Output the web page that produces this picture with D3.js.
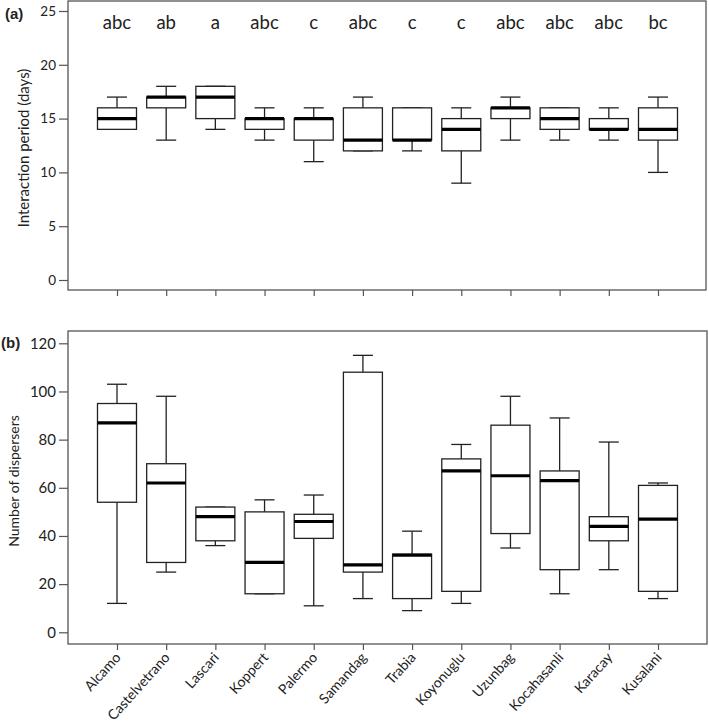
<!DOCTYPE html>
<html>
<head>
<meta charset="utf-8">
<script src="https://cdn.jsdelivr.net/npm/d3@7"></script>
<style>
  body { margin: 0; background: #fff; }
  text { font-family: Lato, "Open Sans", sans-serif; fill: #222; }
</style>
</head>
<body>
<div id="chart"></div>
<script>
// sites, in plotting order
let sites = ["Alcamo", "Castelvetrano", "Lascari", "Koppert", "Palermo", "Samandag",
             "Trabia", "Koyonuglu", "Uzunbag", "Kocahasanli", "Karacay", "Kusalani"];

// (a) interaction period (days): min, q1, median, q3, max
let periodMin = [14, 13, 14, 13, 11, 12, 12, 9, 13, 13, 13, 10];
let periodQ1  = [14, 16, 15, 14, 13, 12, 13, 12, 15, 14, 14, 13];
let periodMed = [15, 17, 17, 15, 15, 13, 13, 14, 16, 15, 14, 14];
let periodQ3  = [16, 17, 18, 15, 15, 16, 16, 15, 16, 16, 15, 16];
let periodMax = [17, 18, 18, 16, 16, 17, 16, 16, 17, 16, 16, 17];
let letters = ["abc", "ab", "a", "abc", "c", "abc", "c", "c", "abc", "abc", "abc", "bc"];

// (b) number of dispersers
let dispMin = [12, 25, 36, 16, 11, 14, 9, 12, 35, 16, 26, 14];
let dispQ1  = [54, 29, 38, 16, 39, 25, 14, 17, 41, 26, 38, 17];
let dispMed = [87, 62, 48, 29, 46, 28, 32, 67, 65, 63, 44, 47];
let dispQ3  = [95, 70, 52, 50, 49, 108, 32.5, 72, 86, 67, 48, 61];
let dispMax = [103, 98, 52, 55, 57, 115, 42, 78, 98, 89, 79, 62];

let periodTicks = [0, 5, 10, 15, 20, 25];
let dispTicks = [0, 20, 40, 60, 80, 100, 120];

let W = 709, H = 722;
let frameColor = "#555";
let boxColor = "#222";
let boxW = 39, capW = 20;

let svg = d3.select("#chart").append("svg")
    .attr("width", W).attr("height", H);

let xScale = d3.scalePoint().domain(sites).range([117, 658]);

let drawPanel = function(cfg)
{
    let g = svg.append("g");
    let yScale = d3.scaleLinear().domain(cfg.domain).range(cfg.yRange);

    // frame
    g.append("rect")
        .attr("x", cfg.frame.x0).attr("y", cfg.frame.y0)
        .attr("width", cfg.frame.x1 - cfg.frame.x0)
        .attr("height", cfg.frame.y1 - cfg.frame.y0)
        .attr("fill", "none").attr("stroke", frameColor).attr("stroke-width", 1.3);

    let yAxis = g.append("g")
        .attr("transform", "translate(" + cfg.frame.x0 + ",0)")
        .call(d3.axisLeft(yScale).tickValues(cfg.ticks).tickSize(9).tickPadding(3));
    yAxis.select(".domain").remove();
    yAxis.selectAll("line").attr("stroke", frameColor).attr("stroke-width", 1.2);
    yAxis.selectAll("text").attr("font-size", cfg.tickFont).attr("fill", "#333")
        .style("font-family", "Lato, sans-serif");

    let xAxis = g.append("g")
        .attr("transform", "translate(0," + cfg.frame.y1 + ")")
        .call(d3.axisBottom(xScale).tickSize(6).tickFormat(cfg.showNames ? null : ""));
    xAxis.select(".domain").remove();
    xAxis.selectAll("line").attr("stroke", frameColor).attr("stroke-width", 1.2);
    if (cfg.showNames)
    {
        xAxis.selectAll("text")
            .attr("font-size", 14).attr("fill", "#333")
            .style("font-family", "Lato, sans-serif")
            .attr("text-anchor", "end")
            .attr("dy", null).attr("y", 0)
            .attr("transform", "translate(4,14) rotate(-48)");
    }

    let boxes = g.selectAll(".box")
        .data(sites)
        .enter()
        .append("g")
        .attr("class", "box");

    // whiskers
    boxes.append("line")
        .attr("x1", d => xScale(d)).attr("x2", d => xScale(d))
        .attr("y1", (d, i) => yScale(cfg.max[i])).attr("y2", (d, i) => yScale(cfg.q3[i]))
        .attr("stroke", boxColor).attr("stroke-width", 1.3);
    boxes.append("line")
        .attr("x1", d => xScale(d)).attr("x2", d => xScale(d))
        .attr("y1", (d, i) => yScale(cfg.q1[i])).attr("y2", (d, i) => yScale(cfg.min[i]))
        .attr("stroke", boxColor).attr("stroke-width", 1.3);
    boxes.append("line")
        .attr("x1", d => xScale(d) - capW / 2).attr("x2", d => xScale(d) + capW / 2)
        .attr("y1", (d, i) => yScale(cfg.max[i])).attr("y2", (d, i) => yScale(cfg.max[i]))
        .attr("stroke", boxColor).attr("stroke-width", 1.3);
    boxes.append("line")
        .attr("x1", d => xScale(d) - capW / 2).attr("x2", d => xScale(d) + capW / 2)
        .attr("y1", (d, i) => yScale(cfg.min[i])).attr("y2", (d, i) => yScale(cfg.min[i]))
        .attr("stroke", boxColor).attr("stroke-width", 1.3);

    // box
    boxes.append("rect")
        .attr("x", d => xScale(d) - boxW / 2)
        .attr("y", (d, i) => yScale(cfg.q3[i]))
        .attr("width", boxW)
        .attr("height", (d, i) => yScale(cfg.q1[i]) - yScale(cfg.q3[i]))
        .attr("fill", "#fff").attr("stroke", boxColor).attr("stroke-width", 1.3);

    // median
    boxes.append("line")
        .attr("x1", d => xScale(d) - boxW / 2).attr("x2", d => xScale(d) + boxW / 2)
        .attr("y1", (d, i) => yScale(cfg.med[i])).attr("y2", (d, i) => yScale(cfg.med[i]))
        .attr("stroke", "#000").attr("stroke-width", 3.2);

    // y title
    g.append("text")
        .attr("transform", "translate(" + cfg.titleX + "," + cfg.titleY + ") rotate(-90)")
        .attr("text-anchor", "middle")
        .attr("dy", "0.35em")
        .attr("font-size", cfg.titleFont)
        .text(cfg.title);

    // panel label
    g.append("text")
        .attr("x", cfg.labelX).attr("y", cfg.labelY)
        .attr("dy", "0.35em")
        .attr("font-size", 15).attr("font-weight", "bold")
        .style("font-family", "'Liberation Sans', Arial, sans-serif")
        .text(cfg.label);

    return yScale;
}

drawPanel({
    domain: [0, 25], yRange: [280, 11],
    frame: {x0: 68, y0: 1, x1: 706, y1: 290},
    ticks: periodTicks, tickFont: 13.5,
    min: periodMin, q1: periodQ1, med: periodMed, q3: periodQ3, max: periodMax,
    showNames: false,
    title: "Interaction period (days)", titleX: 24, titleY: 148, titleFont: 15,
    label: "(a)", labelX: 5, labelY: 14
});

// significance letters
svg.selectAll(".letter")
    .data(letters)
    .enter()
    .append("text")
    .attr("class", "letter")
    .attr("x", (d, i) => xScale(sites[i]))
    .attr("y", 23)
    .attr("dy", "0.35em")
    .attr("text-anchor", "middle")
    .attr("font-size", 18.5)
    .text(d => d);

drawPanel({
    domain: [0, 120], yRange: [632.3, 343.3],
    frame: {x0: 68, y0: 331, x1: 707, y1: 644},
    ticks: dispTicks, tickFont: 15,
    min: dispMin, q1: dispQ1, med: dispMed, q3: dispQ3, max: dispMax,
    showNames: true,
    title: "Number of dispersers", titleX: 14, titleY: 481, titleFont: 14,
    label: "(b)", labelX: 1, labelY: 343
});
</script>
</body>
</html>
